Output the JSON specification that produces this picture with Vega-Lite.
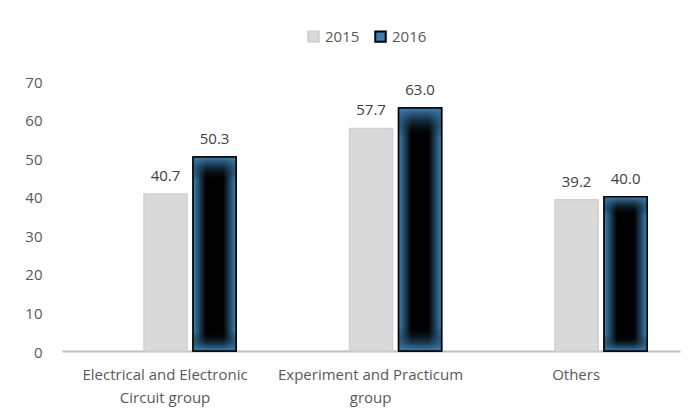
{
  "$schema": "https://vega.github.io/schema/vega-lite/v6.json",
  "width": 618,
  "height": 270,
  "autosize": {"type": "none"},
  "padding": {"left": 62, "top": 81, "right": 15, "bottom": 66},
  "background": "white",
  "config": {
    "view": {"stroke": null},
    "font": "Open Sans",
    "axis": {"labelFont": "Open Sans", "labelColor": "#595959", "labelFontSize": 15},
    "legend": {"labelFont": "Open Sans", "labelColor": "#595959", "labelFontSize": 15}
  },
  "data": {
    "values": [
      {"category": "Electrical and Electronic Circuit group", "year": "2015", "value": 40.7},
      {"category": "Electrical and Electronic Circuit group", "year": "2016", "value": 50.3},
      {"category": "Experiment and Practicum group", "year": "2015", "value": 57.7},
      {"category": "Experiment and Practicum group", "year": "2016", "value": 63.0},
      {"category": "Others", "year": "2015", "value": 39.2},
      {"category": "Others", "year": "2016", "value": 40.0}
    ]
  },
  "encoding": {
    "x": {
      "field": "category",
      "type": "nominal",
      "sort": null,
      "scale": {"paddingInner": 0.513, "paddingOuter": 0.26, "align": 0.73},
      "axis": {
        "title": null,
        "labelAngle": 0,
        "ticks": false,
        "domainColor": "#bfbfbf",
        "domainWidth": 2,
        "labelPadding": 16,
        "labelLineHeight": 23,
        "labelOffset": -25,
        "labelLimit": 400,
        "labelOverlap": false,
        "labelExpr": "datum.label == 'Electrical and Electronic Circuit group' ? ['Electrical and Electronic', 'Circuit group'] : datum.label == 'Experiment and Practicum group' ? ['Experiment and Practicum', 'group'] : datum.label"
      }
    },
    "xOffset": {
      "field": "year",
      "type": "nominal",
      "scale": {"domain": ["2015", "2016"], "paddingInner": 0.1224, "paddingOuter": 0.0816}
    },
    "y": {
      "field": "value",
      "type": "quantitative",
      "scale": {"domain": [0, 70], "nice": false},
      "axis": {
        "title": null,
        "values": [0, 10, 20, 30, 40, 50, 60, 70],
        "domain": false,
        "ticks": false,
        "grid": false,
        "labelPadding": 20,
        "labelBaseline": "middle",
        "labelOffset": 1
      }
    }
  },
  "layer": [
    {
      "mark": {"type": "bar", "strokeWidth": 1.5},
      "encoding": {
        "fill": {
          "field": "year",
          "type": "nominal",
          "scale": {"domain": ["2015", "2016"], "range": ["#d9d9d9", "#3b7fb5"]},
          "legend": {
            "title": null,
            "orient": "none",
            "direction": "horizontal",
            "legendX": 244,
            "legendY": -52,
            "symbolType": "square",
            "symbolSize": 110,
            "symbolStrokeWidth": 2,
            "labelOffset": 4,
            "columnPadding": 11
          }
        },
        "stroke": {
          "field": "year",
          "type": "nominal",
          "scale": {"domain": ["2015", "2016"], "range": ["#d0d0d0", "#000000"]},
          "legend": null
        }
      }
    },
    {
      "transform": [{"filter": "datum.year == '2016'"}],
      "mark": {
        "type": "bar",
        "fill": {
          "gradient": "linear",
          "x1": 0, "y1": 0, "x2": 1, "y2": 0,
          "stops": [
            {"offset": 0, "color": "#3f82b3"},
            {"offset": 0.12, "color": "#23506f"},
            {"offset": 0.3, "color": "#000000"},
            {"offset": 0.7, "color": "#000000"},
            {"offset": 0.88, "color": "#23506f"},
            {"offset": 1, "color": "#3f82b3"}
          ]
        }
      }
    },
    {
      "transform": [{"filter": "datum.year == '2016'"}],
      "mark": {
        "type": "bar",
        "stroke": "#000000",
        "strokeWidth": 1.5,
        "fill": {
          "gradient": "linear",
          "x1": 0, "y1": 0, "x2": 0, "y2": 1,
          "stops": [
            {"offset": 0, "color": "rgba(63,130,179,1)"},
            {"offset": 0.05, "color": "rgba(35,80,111,0.6)"},
            {"offset": 0.12, "color": "rgba(0,0,0,0)"},
            {"offset": 0.9, "color": "rgba(0,0,0,0)"},
            {"offset": 0.96, "color": "rgba(35,80,111,0.6)"},
            {"offset": 1, "color": "rgba(63,130,179,1)"}
          ]
        }
      }
    },
    {
      "mark": {"type": "text", "baseline": "bottom", "dy": -10, "fontSize": 15, "color": "#404040", "font": "Open Sans"},
      "encoding": {
        "text": {"field": "value", "type": "quantitative", "format": ".1f"}
      }
    }
  ]
}
